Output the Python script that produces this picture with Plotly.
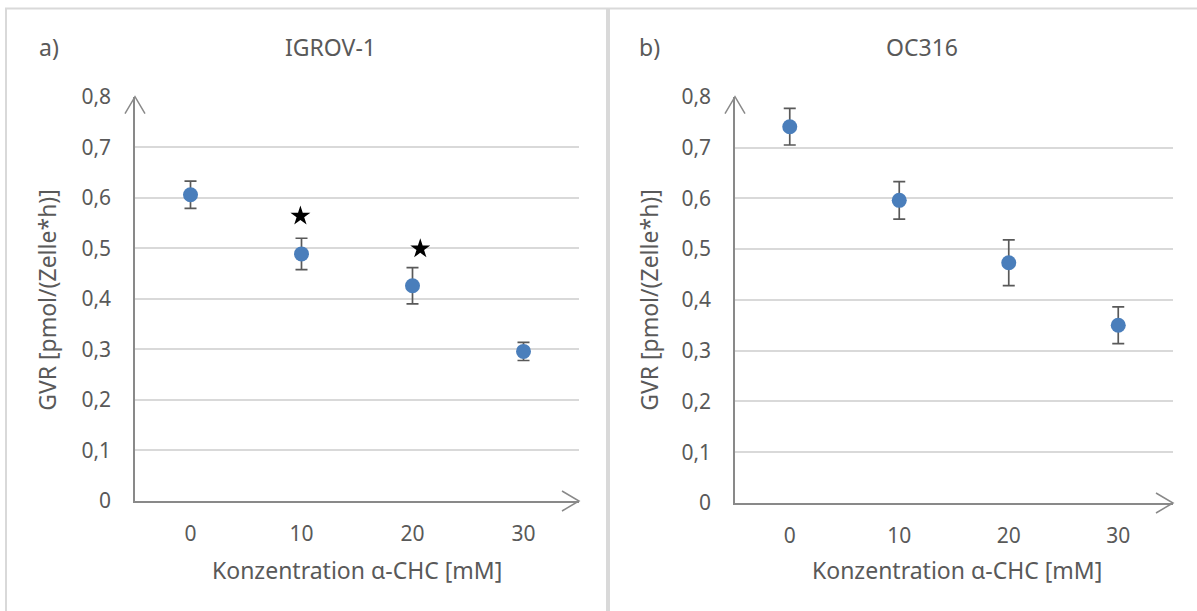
import plotly.graph_objects as go

# ---- data ----
categories = ["0", "10", "20", "30"]
igrov_mean = [0.606, 0.489, 0.426, 0.296]
igrov_err = [0.027, 0.031, 0.036, 0.018]
oc316_mean = [0.741, 0.596, 0.473, 0.350]
oc316_err = [0.036, 0.037, 0.045, 0.036]
star_x = [0.99, 2.07]          # in category units (IGROV-1 significance marks)
star_y = [0.564, 0.499]
y_tickvals = [0, 0.1, 0.2, 0.3, 0.4, 0.5, 0.6, 0.7, 0.8]
y_ticktext = ["0", "0,1", "0,2", "0,3", "0,4", "0,5", "0,6", "0,7", "0,8"]
x_title = "Konzentration α-CHC [mM]"
y_title = "GVR [pmol/(Zelle*h)]"
panel_titles = ["IGROV-1", "OC316"]
panel_labels = ["a)", "b)"]

W, H = 1197, 611
FONT = "Noto Sans"
TXT = "#595959"
BLUE = "#4a7ebb"
AXC = "#898989"
GRID = "#d9d9d9"

# empirical vertical correction of the capture
VS, VO = 0.963, 10.5

xpos = list(range(len(categories)))


def px_x(p):
    return p / W


def px_y(p):
    t = (p - VO) / VS
    return (H - t) / H


fig = go.Figure()

fig.add_trace(go.Scatter(
    x=xpos, y=igrov_mean, mode="markers", xaxis="x", yaxis="y",
    marker=dict(size=15, color=BLUE),
    error_y=dict(type="data", array=igrov_err, color="#595959", thickness=1.7, width=6),
    showlegend=False))
fig.add_trace(go.Scatter(
    x=star_x, y=star_y, mode="markers", xaxis="x", yaxis="y",
    marker=dict(size=15, color="black", symbol="star"),
    showlegend=False))
fig.add_trace(go.Scatter(
    x=xpos, y=oc316_mean, mode="markers", xaxis="x2", yaxis="y2",
    marker=dict(size=15, color=BLUE),
    error_y=dict(type="data", array=oc316_err, color="#595959", thickness=1.7, width=6),
    showlegend=False))

common_x = dict(range=[-0.5, len(categories) - 0.5], tickvals=xpos, ticktext=categories,
                showgrid=False, zeroline=False, showline=True, linecolor=AXC, linewidth=1.5,
                ticks="", ticklabelstandoff=13,
                tickfont=dict(family=FONT, size=21, color=TXT), fixedrange=True)
common_y = dict(range=[0, 0.8], tickvals=y_tickvals, ticktext=y_ticktext,
                showgrid=True, gridcolor=GRID, gridwidth=1.5, zeroline=False,
                showline=True, linecolor=AXC, linewidth=1.5, ticks="",
                ticklabelstandoff=18,
                tickfont=dict(family=FONT, size=21, color=TXT), fixedrange=True)

dom_left_x = [px_x(135), px_x(579)]
dom_right_x = [px_x(735), px_x(1173)]
dom_left_y = [px_y(501), px_y(93)]
dom_right_y = [px_y(503), px_y(93)]

fig.update_layout(
    width=W, height=H,
    margin=dict(l=0, r=0, t=0, b=0),
    paper_bgcolor="white", plot_bgcolor="white",
    xaxis=dict(domain=dom_left_x, anchor="y", **common_x),
    yaxis=dict(domain=dom_left_y, anchor="x", **common_y),
    xaxis2=dict(domain=dom_right_x, anchor="y2", **common_x),
    yaxis2=dict(domain=dom_right_y, anchor="x2", **common_y),
)

shapes = []
# panel borders
top_b = px_y(4)
shapes.append(dict(type="rect", xref="paper", yref="paper", x0=px_x(6), x1=px_x(607),
                   y0=-0.05, y1=top_b, line=dict(color=GRID, width=2), layer="below"))
shapes.append(dict(type="rect", xref="paper", yref="paper", x0=px_x(609), x1=px_x(1205),
                   y0=-0.05, y1=top_b, line=dict(color=GRID, width=2), layer="below"))
# arrowheads (paper referenced so they are not clipped)
for dx, dy in ((dom_left_x, dom_left_y), (dom_right_x, dom_right_y)):
    shapes.append(dict(type="path", xref="paper", yref="paper", xsizemode="pixel", ysizemode="pixel",
                       xanchor=dx[1], yanchor=dy[0],
                       path="M -17,-10 L 0,0 L -17,10", line=dict(color=AXC, width=1.5)))
    shapes.append(dict(type="path", xref="paper", yref="paper", xsizemode="pixel", ysizemode="pixel",
                       xanchor=dx[0], yanchor=dy[1],
                       path="M -10,-17 L 0,0 L 10,-17", line=dict(color=AXC, width=1.5)))
fig.update_layout(shapes=shapes)

ann = []
tf = dict(family=FONT, size=23, color=TXT)
for lab, lx in zip(panel_labels, (37, 637)):
    ann.append(dict(text=lab, x=px_x(lx), y=px_y(43), xref="paper", yref="paper",
                    xanchor="left", yanchor="middle", showarrow=False, font=tf))
for t, cx in zip(panel_titles, (330, 922)):
    ann.append(dict(text=t, x=px_x(cx), y=px_y(43), xref="paper", yref="paper",
                    xanchor="center", yanchor="middle", showarrow=False, font=tf))
for cx in (357, 957):
    ann.append(dict(text=x_title, x=px_x(cx), y=px_y(571), xref="paper", yref="paper",
                    xanchor="center", yanchor="middle", showarrow=False, font=tf))
for cx in (47, 649):
    ann.append(dict(text=y_title, x=px_x(cx), y=px_y(298), xref="paper", yref="paper",
                    xanchor="center", yanchor="middle", textangle=-90, showarrow=False, font=tf))
fig.update_layout(annotations=ann)

fig.write_html("out.html")
